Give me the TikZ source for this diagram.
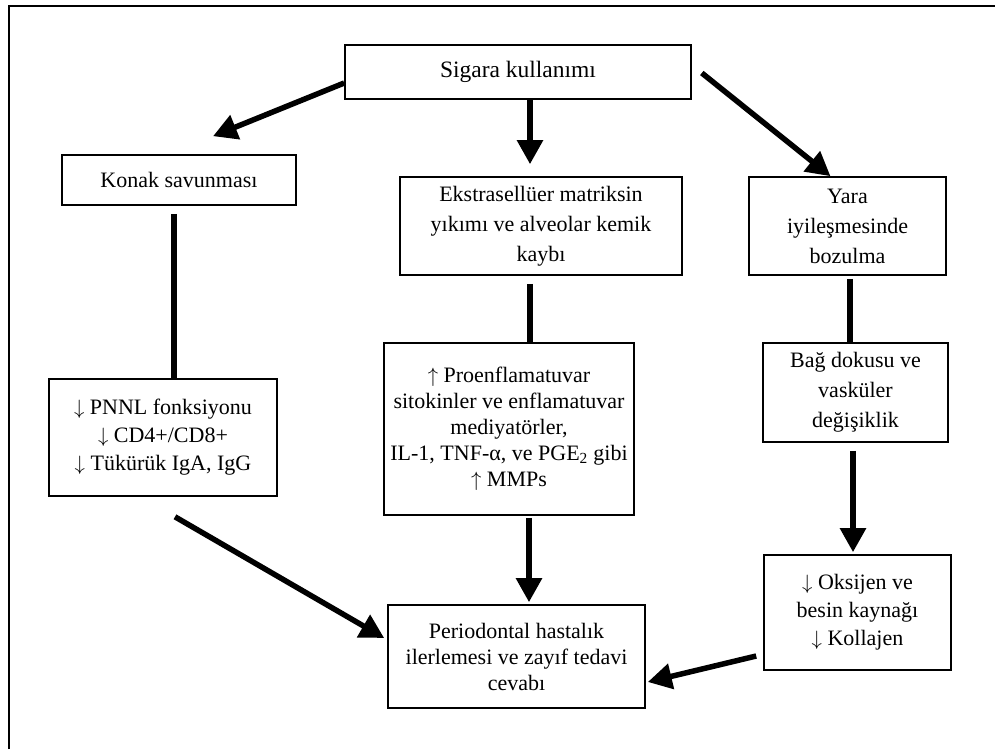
\documentclass[tikz,border=0pt]{standalone}
\usepackage{fontspec}
\setmainfont{Liberation Serif}
\usetikzlibrary{arrows.meta}
\newcommand{\dnarr}{$\downarrow$}
\newcommand{\uparr}{$\uparrow$}
\begin{document}
\begin{tikzpicture}[x=1pt,y=-1pt,
  box/.style={draw, line width=1.6pt, align=center, inner sep=0pt,
    font=\fontsize{22}{28}\selectfont},
  wide/.style={font=\fontsize{22}{30}\selectfont},
  tight/.style={font=\fontsize{22}{26}\selectfont},
  link/.style={line width=5.5pt},
  arr/.style={link, -{Triangle[length=24pt,width=25pt]}}]
\useasboundingbox (0,0) rectangle (995,749);
\fill[white] (0,0) rectangle (995,749);
% page frame (top and left edges)
\draw[line width=2.2pt] (9,749) -- (9,6) -- (995,6);

% boxes
\node[box, font=\fontsize{23.5}{28}\selectfont, minimum width=346, minimum height=54] (sig) at (518,72) {Sigara kullanımı};
\node[box, minimum width=234, minimum height=50] (konak) at (179,180) {Konak savunması};
\node[box, wide, minimum width=282, minimum height=98] (ekstra) at (541,226)
  {Ekstrasellüer matriksin\\yıkımı ve alveolar kemik\\kaybı};
\node[box, wide, minimum width=197, minimum height=98] (yara) at (847.5,226)
  {Yara\\iyileşmesinde\\bozulma};
\node[box, minimum width=228, minimum height=117] (pnnl) at (163,437.5)
  {\dnarr\ PNNL fonksiyonu\\\dnarr\ CD4+/CD8+\\\dnarr\ Tükürük IgA, IgG};
\node[box, tight, minimum width=250, minimum height=172] (proenf) at (509,429)
  {\uparr\ Proenflamatuvar\\sitokinler ve enflamatuvar\\mediyatörler,\\IL-1, TNF-α, ve PGE\textsubscript{2} gibi\\\uparr\ MMPs};
\node[box, wide, minimum width=185, minimum height=99] (bag) at (855.5,392.5)
  {Bağ dokusu ve\\vasküler\\değişiklik};
\node[box, minimum width=187, minimum height=115] (oks) at (857.5,612.5)
  {\dnarr\ Oksijen ve\\besin kaynağı\\\dnarr\ Kollajen};
\node[box, tight, minimum width=257, minimum height=103] (perio) at (516.5,656.5)
  {Periodontal hastalık\\ilerlemesi ve zayıf tedavi\\cevabı};

% connectors
\draw[arr] ([yshift=-11]sig.west) -- ([xshift=34,yshift=18]konak.north);
\draw[arr] ([xshift=12]sig.south) -- ([xshift=-11,yshift=12]ekstra.north);
\draw[arr] ([xshift=10,yshift=-1]sig.east) -- ([xshift=-17]yara.north);

\draw[link] ([xshift=-5,yshift=-8]konak.south) -- ([xshift=11]pnnl.north);
\draw[link] ([xshift=-11,yshift=-8]ekstra.south) -- ([xshift=21]proenf.north);
\draw[link] ([xshift=2.5,yshift=-3]yara.south) -- ([xshift=-5.5]bag.north);

\draw[arr] ([xshift=20,yshift=-2]proenf.south) -- ([xshift=12.5,yshift=2]perio.north);
\draw[arr] ([xshift=-2.5,yshift=-8]bag.south) -- ([xshift=-4.5,yshift=2]oks.north);
\draw[arr] ([xshift=12,yshift=-20]pnnl.south) -- ([xshift=-3,yshift=18.5]perio.west);
\draw[arr] ([xshift=-7,yshift=-43.5]oks.west) -- ([xshift=2,yshift=-25.5]perio.east);
\end{tikzpicture}
\end{document}
